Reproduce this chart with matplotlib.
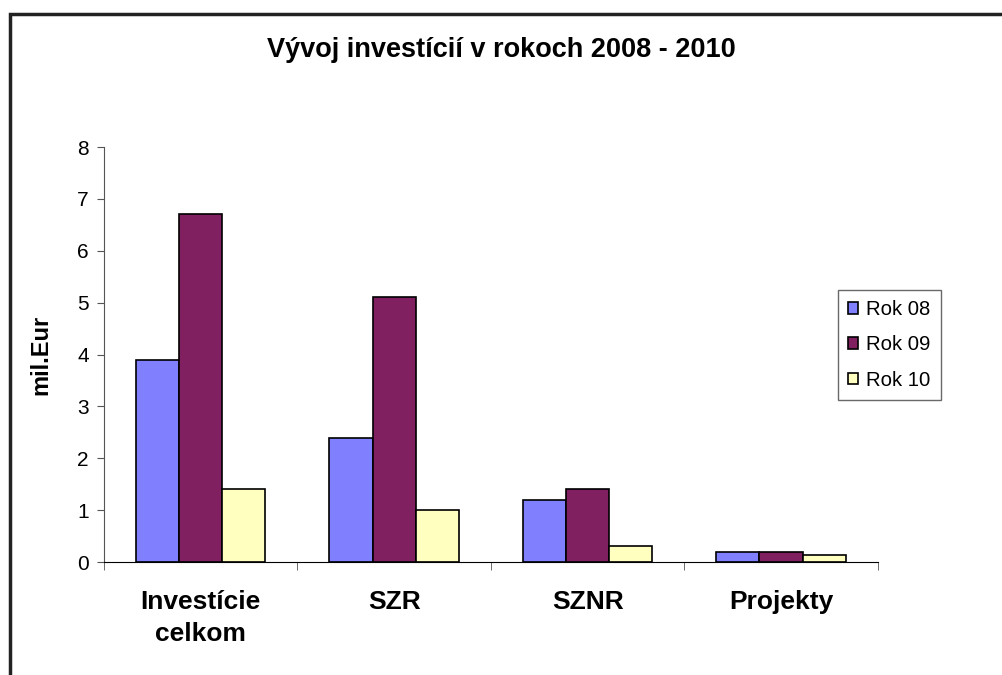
import matplotlib.pyplot as plt
import numpy as np
from matplotlib.patches import Rectangle

plt.rcParams['font.family'] = ['Liberation Sans', 'DejaVu Sans']

categories = ['Investície\ncelkom', 'SZR', 'SZNR', 'Projekty']
series_names = ['Rok 08', 'Rok 09', 'Rok 10']
rok08 = [3.9, 2.4, 1.2, 0.2]
rok09 = [6.7, 5.1, 1.4, 0.2]
rok10 = [1.4, 1.0, 0.3, 0.13]
colors = ['#8080FF', '#802060', '#FFFFC0']

fig = plt.figure(figsize=(10.02, 6.75), dpi=100)
ax = fig.add_axes([0.1038, 0.1674, 0.7722, 0.6148])

# outer chart border
fig.patches.append(Rectangle((10 / 1002, -0.05), 1.1, 1 - 14 / 675 + 0.05,
                             transform=fig.transFigure, fill=False,
                             edgecolor='#222222', linewidth=2.5))

x = np.arange(len(categories))
w = 0.223
for i, (vals, name) in enumerate(zip([rok08, rok09, rok10], series_names)):
    ax.bar(x + (i - 1) * w, vals, w, color=colors[i], edgecolor='black',
           linewidth=1.2, label=name)

ax.set_xlim(-0.5, len(categories) - 0.5)
ax.set_ylim(0, 8)
ax.set_yticks(range(0, 9))
ax.tick_params(axis='y', labelsize=15, length=5, direction='out', pad=6,
               color='#555555')

ax.set_xticks(x)
ax.set_xticklabels(categories, fontsize=19, fontweight='bold', linespacing=1.45)
ax.set_xticks(np.arange(-0.5, len(categories)), minor=True)
ax.tick_params(axis='x', which='major', length=0, pad=20)
ax.tick_params(axis='x', which='minor', length=6, color='#555555')

for s in ['top', 'right']:
    ax.spines[s].set_visible(False)
ax.spines['left'].set_color('#555555')
ax.spines['bottom'].set_color('black')

ax.set_ylabel('mil.Eur', fontsize=17, fontweight='bold', labelpad=18)
fig.text(0.5, 1 - 50 / 675, 'Vývoj investícií v rokoch 2008 - 2010',
         ha='center', va='center', fontsize=19.5, fontweight='bold')

leg = ax.legend(loc='upper left', bbox_to_anchor=(838 / 1002, 1 - 290 / 675),
                bbox_transform=fig.transFigure, fontsize=14.6,
                frameon=True, fancybox=False, handlelength=0.5,
                handleheight=0.5, handletextpad=0.4, labelspacing=0.8,
                borderpad=0.5, borderaxespad=0)
leg.get_frame().set_edgecolor('#444444')
leg.get_frame().set_linewidth(1.0)

fig.savefig('out.png', dpi=100)
